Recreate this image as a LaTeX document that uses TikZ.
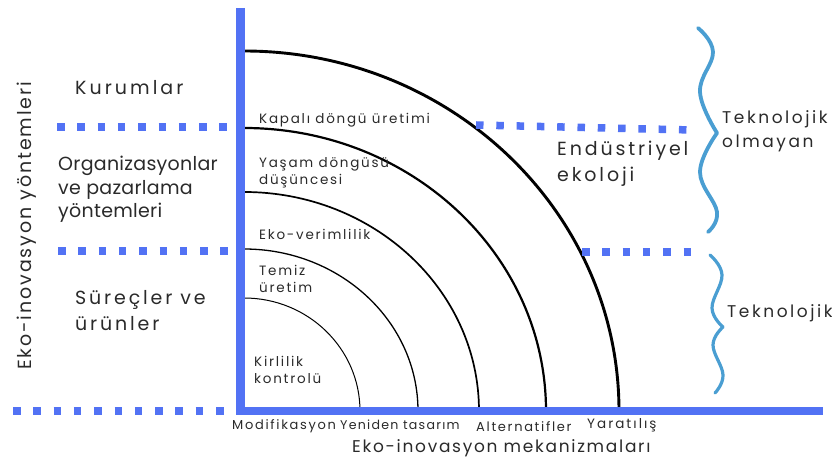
\documentclass[tikz,border=0pt]{standalone}
\usepackage{fontspec}
\setmainfont{Poppins}
\newfontfamily\lsA[LetterSpace=1.5]{Poppins}
\newfontfamily\lsB[LetterSpace=10]{Poppins}
\newfontfamily\lsC[LetterSpace=13]{Poppins}
\newfontfamily\lsD[LetterSpace=15]{Poppins}
\newfontfamily\lsE[LetterSpace=16]{Poppins}
\definecolor{axisblue}{HTML}{5272F4}
\definecolor{braceblue}{HTML}{4A9ED2}
\definecolor{txt}{HTML}{2A2A2A}
\begin{document}
\begin{tikzpicture}[x=1pt,y=1pt,
  lbl/.style={anchor=base west,inner sep=0pt,text=txt,align=left},
  big/.style={lbl,font=\lsD\fontsize{19}{23}\selectfont},
  small/.style={lbl,font=\lsC\fontsize{13.5}{17}\selectfont},
  tick/.style={lbl,font=\lsC\fontsize{13}{15}\selectfont},
  title/.style={lbl,font=\lsB\fontsize{17}{20}\selectfont},
  side/.style={lbl,font=\lsD\fontsize{17}{24}\selectfont},
  dots/.style={axisblue,line width=7.5pt,dash pattern=on 7.5pt off 12.8pt},
  ring/.style={black},
  brace/.style={braceblue,line width=3.8pt,line cap=round}]
\useasboundingbox (0,0) rectangle (832,462);
% arcs (centre at img (244,411))
\coordinate (O) at (244,51);
\draw[ring,line width=1pt]   (360,51) arc[start angle=0,end angle=90,x radius=116,y radius=113];
\draw[ring,line width=1.3pt] (418,51) arc[start angle=0,end angle=90,x radius=174,y radius=162];
\draw[ring,line width=1.7pt] (479,51) arc[start angle=0,end angle=90,x radius=235,y radius=219];
\draw[ring,line width=2.2pt] (546,51) arc[start angle=0,end angle=90,x radius=302,y radius=283];
\draw[ring,line width=2.9pt] (619,51) arc[start angle=0,end angle=90,x radius=375,y radius=360];
% axes
\coordinate (vtop) at (240.5,454);
\coordinate (vbot) at (240.5,47);
\coordinate (hl) at (236,51);
\coordinate (hr) at (823,51);
\draw[axisblue,line width=9pt] (vtop) -- (vbot);
\draw[axisblue,line width=8pt] (hl) -- (hr);
% dotted separators
\coordinate (d1a) at (57,335);  \coordinate (d1b) at (232,335);
\coordinate (d2a) at (58,211);  \coordinate (d2b) at (234,211);
\coordinate (d3a) at (13,51);   \coordinate (d3b) at (229,51);
\coordinate (d4a) at (476,337); \coordinate (d4b) at (692,332);
\coordinate (d5a) at (582,210); \coordinate (d5b) at (695,210);
\draw[dots] (d1a) -- (d1b);
\draw[dots] (d2a) -- (d2b);
\draw[dots] (d3a) -- (d3b);
\draw[dots] (d4a) -- (d4b);
\draw[dots] (d5a) -- (d5b);
% braces
\draw[brace] plot[smooth,tension=0.7] coordinates {(698,434) (713,410) (700,370) (717,329)};
\draw[brace] plot[smooth,tension=0.7] coordinates {(717,329) (700,290) (717,250) (708,230)};
\draw[brace,line width=3.2pt] plot[smooth,tension=0.7] coordinates {(710,207) (722,187) (712,154) (723,135)};
\draw[brace,line width=3.2pt] plot[smooth,tension=0.7] coordinates {(723,135) (713,117) (723,87) (715,69)};
% left labels
\node[big,font=\lsE\fontsize{19}{23}\selectfont] (kur) at (75,367) {Kurumlar};
\node[big,font=\lsA\fontsize{19}{23.5}\selectfont,anchor=north west] (org) at (58,306) {Organizasyonlar\\ve pazarlama\\yöntemleri};
\node[big,anchor=north west,font=\lsD\fontsize{19}{26}\selectfont] (sur) at (75,172) {Süreçler ve\\ürünler};
\node[title,rotate=90,font=\lsB\fontsize{19}{20}\selectfont] (ylab) at (31,92) {Eko-inovasyon yöntemleri};
% ring labels
\node[small] (kap) at (259,338) {Kapalı döngü üretimi};
\node[small,anchor=north west] (yas) at (259,305) {Yaşam döngüsü\\düşüncesi};
\node[small] (eko) at (259,222) {Eko-verimlilik};
\node[small,anchor=north west] (tem) at (259,197) {Temiz\\üretim};
\node[small,anchor=north west] (kir) at (254,106) {Kirlilik\\kontrolü};
% right labels
\node[big,anchor=north west,font=\lsD\fontsize{19}{26}\selectfont] (end) at (557,321) {Endüstriyel\\ekoloji};
\node[side,anchor=north west] (tno) at (722,352) {Teknolojik\\olmayan};
\node[side] (tek) at (727,144) {Teknolojik};
% bottom labels
\node[tick] (mod) at (232,32) {Modifikasyon};
\node[tick,font=\lsB\fontsize{12.6}{15}\selectfont] (yen) at (340,32) {Yeniden tasarım};
\node[tick] (alt) at (476,30) {Alternatifler};
\node[tick,font=\lsD\fontsize{13.5}{15}\selectfont] (yar) at (587,33) {Yaratılış};
\node[title] (xlab) at (352,9) {Eko-inovasyon mekanizmaları};
\end{tikzpicture}
\end{document}
